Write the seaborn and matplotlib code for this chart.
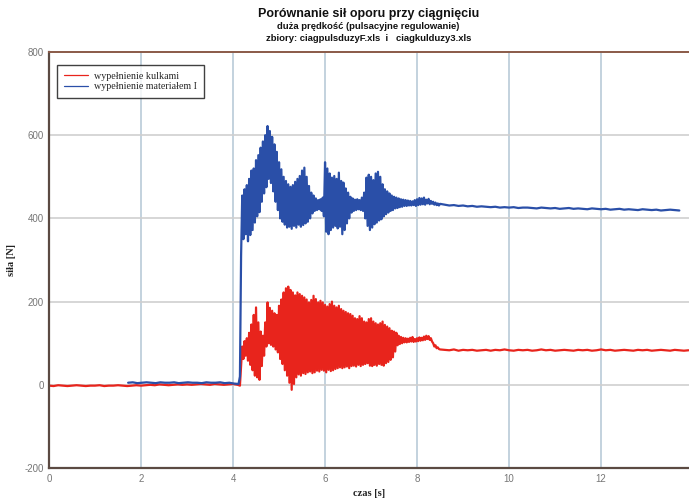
import numpy as np
import pandas as pd
import matplotlib
matplotlib.use("Agg")
import matplotlib.pyplot as plt
import seaborn as sns

# --- data (force in N vs time in s) ---
# red: "wypełnienie kulkami"
red_a_start, red_a_step = 0.0, 0.1
red_a = [-2, -3, -1, -2, -3, -2, -1, -2, -3, -2,
         -2, -1, -3, -2, -2, -1, -2, -3, -2, -1,
         -2, -1, 0, -1, 1, 0, -1, 0, 1, 0,
         1, 0, 1, 2, 1, 0, 2, 1, 0, 1, 2, 0]
red_b_start, red_b_step = 4.15, 0.025
red_b = [-2, 45, 92, 62, 105, 70, 112, 58,
         125, 48, 145, 35, 168, 22, 186, 18,
         150, 12, 128, 45, 118, 70, 150, 92,
         198, 100, 185, 96, 178, 92, 172, 85,
         168, 78, 190, 62, 205, 50, 222, 35,
         232, 22, 236, 5, 228, -12, 222, 2,
         215, 18, 222, 25, 218, 22, 214, 28,
         210, 26, 205, 30, 198, 32, 204, 28,
         214, 30, 206, 34, 198, 32, 202, 36,
         198, 34, 192, 30, 188, 36, 194, 33,
         200, 35, 190, 38, 186, 40, 190, 42,
         182, 40, 178, 42, 175, 44, 172, 40,
         170, 45, 166, 46, 160, 44, 158, 48,
         165, 45, 160, 48, 152, 50, 150, 52,
         158, 46, 160, 45, 152, 48, 148, 46,
         145, 50, 148, 48, 152, 46, 144, 52,
         140, 55, 136, 60, 130, 66, 128, 80,
         125, 95, 118, 98, 115, 100, 113, 102,
         112, 102, 111, 103, 113, 104, 115, 103,
         110, 104, 112, 105, 114, 106, 113, 107,
         116, 108, 118, 110, 117, 108, 112, 104,
         100, 92, 95, 88, 90, 86, 85]
red_c_start, red_c_step = 8.6, 0.1
red_c = [84, 83, 85, 82, 84, 83, 84, 82, 83, 84,
         82, 84, 83, 85, 83, 82, 84, 83, 84, 82,
         83, 85, 83, 84, 82, 83, 84, 83, 82, 84,
         83, 84, 82, 83, 85, 83, 84, 82, 83, 84,
         83, 82, 84, 83, 84, 82, 83, 84, 83, 82,
         84, 83, 82, 83]

# blue: "wypełnienie materiałem I"
blue_a_start, blue_a_step = 1.72, 0.1
blue_a = [5, 6, 4, 5, 6, 5, 4, 6, 5, 5,
          6, 4, 5, 6, 5, 5, 4, 6, 5, 5,
          6, 4, 5, 3, 2]
blue_b_start, blue_b_step = 4.15, 0.025
blue_b = [20, 310, 455, 350, 470, 362, 480, 345,
          495, 360, 515, 372, 520, 390, 540, 405,
          552, 415, 570, 440, 585, 460, 600, 475,
          622, 495, 610, 485, 596, 465, 578, 440,
          560, 420, 535, 400, 518, 392, 500, 385,
          490, 378, 482, 380, 476, 375, 480, 382,
          488, 378, 495, 385, 502, 380, 515, 384,
          522, 388, 500, 392, 478, 400, 462, 412,
          455, 418, 448, 420, 444, 422, 446, 418,
          450, 405, 535, 368, 520, 362, 508, 372,
          498, 378, 502, 382, 495, 376, 510, 380,
          490, 362, 486, 372, 472, 388, 462, 400,
          452, 414, 448, 418, 445, 420, 446, 422,
          444, 420, 450, 418, 462, 400, 498, 382,
          505, 372, 500, 378, 492, 386, 508, 390,
          512, 395, 500, 398, 482, 405, 470, 410,
          465, 414, 460, 418, 455, 420, 452, 424,
          450, 425, 448, 427, 446, 428, 445, 430,
          444, 430, 443, 431, 442, 431, 441, 432,
          444, 430, 446, 432, 449, 433, 448, 434,
          450, 433, 445, 436, 447, 434, 442, 435,
          440, 433, 438, 432, 436, 431, 435]
blue_c_start, blue_c_step = 8.6, 0.1
blue_c = [433, 431, 432, 430, 431, 429, 430, 428, 429, 428,
          427, 428, 426, 427, 426, 427, 425, 426, 426, 425,
          424, 426, 425, 424, 425, 423, 424, 425, 423, 424,
          423, 422, 424, 423, 422, 423, 421, 422, 423, 421,
          422, 421, 420, 422, 421, 420, 421, 419, 420, 421,
          420, 419]

x_ticks = [0, 2, 4, 6, 8, 10, 12]
y_ticks = [-200, 0, 200, 400, 600, 800]
labels = ["wypełnienie kulkami", "wypełnienie materiałem I"]


def build_series(segments):
    # segments: list of (start, step, values) sampled at a fixed rate
    frames = []
    for start, step, vals in segments:
        t = start + step * np.arange(len(vals))
        frames.append(pd.DataFrame({"czas": t, "sila": vals}))
    return pd.concat(frames, ignore_index=True)


red = build_series([(red_a_start, red_a_step, red_a),
                    (red_b_start, red_b_step, red_b),
                    (red_c_start, red_c_step, red_c)])
blue = build_series([(blue_a_start, blue_a_step, blue_a),
                     (blue_b_start, blue_b_step, blue_b),
                     (blue_c_start, blue_c_step, blue_c)])

sns.set_style("white")
plt.rcParams['font.family'] = ['Liberation Sans', 'DejaVu Sans']
plt.rcParams['axes.unicode_minus'] = False

fig = plt.figure(figsize=(6.89, 4.99), dpi=100)
ax = fig.add_axes([0.0711, 0.0621, 0.9289, 0.8337])

sns.lineplot(data=red, x="czas", y="sila", estimator=None, sort=False,
             color="#e8241c", lw=1.6, label=labels[0], ax=ax)
sns.lineplot(data=blue, x="czas", y="sila", estimator=None, sort=False,
             color="#2a4fa8", lw=1.6, label=labels[1], ax=ax)

ax.set_xlim(0, 13.91)
ax.set_ylim(-200, 800)
ax.set_xticks(x_ticks)
ax.set_yticks(y_ticks)

# grid: bluish verticals, grey horizontals
for x in x_ticks[1:]:
    ax.axvline(x, color="#b9cbd8", lw=1.2, zorder=0)
for y in y_ticks[1:-1]:
    ax.axhline(y, color="#cfcfcf", lw=1.2, zorder=0)

for side in ["left", "bottom"]:
    ax.spines[side].set_color("#5b4a42")
    ax.spines[side].set_linewidth(1.6)
ax.spines["top"].set_color("#8a5a48")
ax.spines["top"].set_linewidth(1.4)
ax.spines["right"].set_visible(False)

ax.tick_params(axis="both", labelsize=7, colors="#777777", length=0, pad=4)
ax.tick_params(axis="y", length=5, width=1, color="#cccccc",
               direction="inout", pad=1)

ax.set_xlabel("czas [s]", fontsize=7.5, fontweight="bold",
              family="Liberation Serif", color="#222222", labelpad=4)
ax.set_ylabel("siła [N]", fontsize=7.5, fontweight="bold",
              family="Liberation Serif", color="#222222")
ax.yaxis.set_label_coords(-0.052, 0.5)

fig.text(0.535, 0.972, "Porównanie sił oporu przy ciągnięciu",
         ha="center", va="center", fontsize=9, fontweight="bold", color="#111111")
fig.text(0.535, 0.946, "duża prędkość (pulsacyjne regulowanie)",
         ha="center", va="center", fontsize=6.8, fontweight="bold", color="#111111")
fig.text(0.535, 0.922, "zbiory: ciagpulsduzyF.xls  i   ciagkulduzy3.xls",
         ha="center", va="center", fontsize=6.8, fontweight="bold", color="#111111")

leg = ax.legend(loc="upper left", bbox_to_anchor=(0.0125, 0.969), borderaxespad=0,
                prop={"family": "Liberation Serif", "size": 7.2},
                frameon=True, fancybox=False, handlelength=2.4,
                borderpad=0.7, labelspacing=0.15, handletextpad=0.6)
leg.get_frame().set_edgecolor("#111111")
leg.get_frame().set_linewidth(1.0)
for line in leg.get_lines():
    line.set_linewidth(0.9)

fig.savefig("out.png", dpi=100)
